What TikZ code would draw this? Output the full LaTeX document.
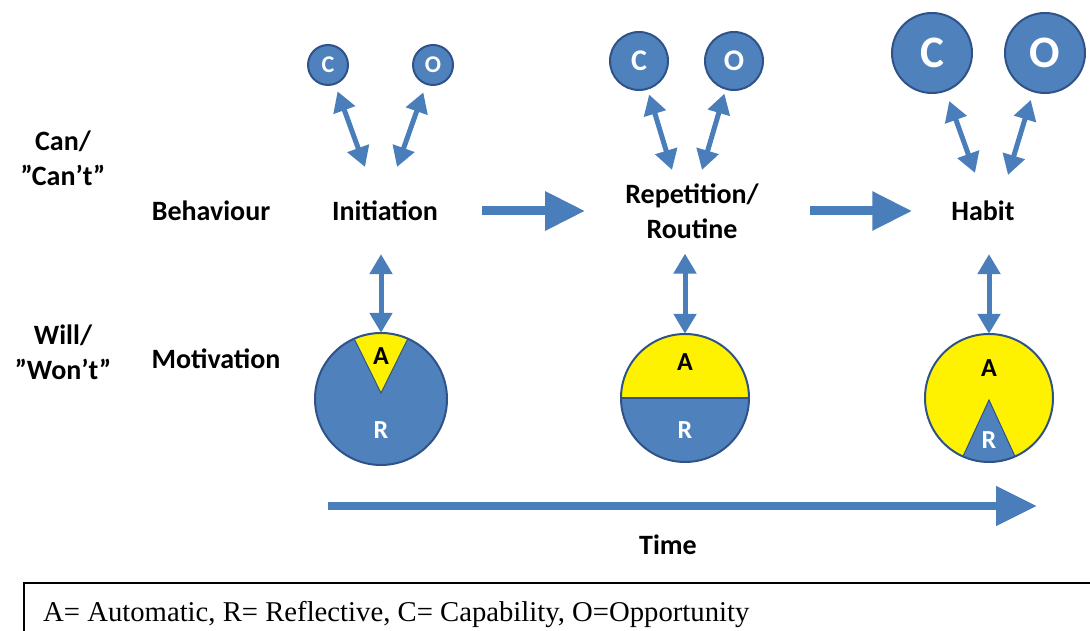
\documentclass[tikz,border=0pt]{standalone}
\usepackage{fontspec}
\setmainfont{Liberation Serif}
\setsansfont{Carlito}
\usetikzlibrary{arrows.meta,positioning,calc}
\definecolor{blu}{HTML}{4F81BD}
\definecolor{bluline}{HTML}{2F5389}
\definecolor{arrblu}{HTML}{4A7EBB}

\tikzset{
  lbl/.style={font=\sffamily\bfseries\fontsize{28}{35}\selectfont, align=center, inner sep=0pt},
  co/.style={circle, draw=bluline, line width=2pt, fill=blu, text=white, inner sep=0pt},
  dbl/.style={arrblu, line width=5pt, {Triangle[width=22pt,length=20pt]}-{Triangle[width=22pt,length=20pt]}},
  fat/.style={arrblu, line width=9pt, -{Triangle[width=37pt,length=40pt]}},
  pie/.style={circle, minimum size=#1, inner sep=0pt},
  letter/.style={font=\sffamily\bfseries\fontsize{26}{30}\selectfont, inner sep=0pt},
}

\begin{document}
\begin{tikzpicture}[x=1pt, y=1pt]
    \useasboundingbox (0,0) rectangle (1090,631);
    \clip (0,0) rectangle (1090,631);

    % row labels
    \node (can) [lbl] at (63,473) {Can/\\”Can’t”};
    \node (will) [lbl] at (63,279) {Will/\\”Won’t”};
    \node (beh) [lbl] at (211,420) {Behaviour};
    \node (mot) [lbl] at (216,272) {Motivation};

    % behaviour stages
    \node (ini) [lbl] at (385,420) {Initiation};
    \node (rep) [lbl] at (692,420) {Repetition/\\Routine};
    \node (hab) [lbl] at (983,420) {Habit};

    % capability / opportunity circles
    \node (c1) [co, minimum size=40, font=\sffamily\bfseries\fontsize{24}{28}\selectfont] at (328,566) {C};
    \node (o1) [co, minimum size=40, font=\sffamily\bfseries\fontsize{24}{28}\selectfont] at (433,566) {O};
    \node (c2) [co, minimum size=58, font=\sffamily\bfseries\fontsize{30}{34}\selectfont] at (639,570) {C};
    \node (o2) [co, minimum size=58, font=\sffamily\bfseries\fontsize{30}{34}\selectfont] at (734,570) {O};
    \node (c3) [co, minimum size=80, font=\sffamily\bfseries\fontsize{45}{50}\selectfont] at (932,578) {C};
    \node (o3) [co, minimum size=80, font=\sffamily\bfseries\fontsize{45}{50}\selectfont] at (1045,578) {O};

    \coordinate (ic) at (365,464);
    \coordinate (io) at (397,464);
    \coordinate (rc) at (672,461);
    \coordinate (ro) at (702,461);
    \coordinate (hc) at (975,458);
    \coordinate (ho) at (1008,456);

    \draw [dbl, shorten <=7pt] (c1) -- (ic);
    \draw [dbl, shorten <=8pt] (o1) -- (io);
    \draw [dbl, shorten <=5pt] (c2) -- (rc);
    \draw [dbl, shorten <=4pt] (o2) -- (ro);
    \draw [dbl, shorten <=10pt] (c3) -- (hc);
    \draw [dbl, shorten <=8pt] (o3) -- (ho);

    % stage arrows
    \draw [fat, shorten <=44pt, shorten >=40pt] (ini) -- (rep);
    \draw [fat, shorten <=51pt, shorten >=39pt] (rep) -- (hab);

    % motivation pies
    \node (pie1) [pie=132] at (381,232) {};
    \node (pie2) [pie=128] at (685,233) {};
    \node (pie3) [pie=128] at (989,233) {};

    \fill [blu] (pie1) circle [radius=66];
    \filldraw [fill=yellow, draw=bluline, line width=1pt] ($(pie1)+(0,6)$) -- ($(pie1)+(66:66)$) arc [start angle=66, end angle=114, radius=66] -- cycle;
    \draw [bluline, line width=2pt] (pie1) circle [radius=66];

    \fill [blu] (pie2) circle [radius=64];
    \fill [yellow] (pie2.east) arc [start angle=0, end angle=180, radius=64] -- cycle;
    \draw [bluline, line width=2pt] (pie2.west) -- (pie2.east);
    \draw [bluline, line width=2pt] (pie2) circle [radius=64];

    \fill [yellow] (pie3) circle [radius=64];
    \filldraw [fill=blu, draw=bluline, line width=1pt] ($(pie3)+(0,-2)$) -- ($(pie3)+(246:64)$) arc [start angle=246, end angle=294, radius=64] -- cycle;
    \draw [bluline, line width=2pt] (pie3) circle [radius=64];

    \node (a1) [letter] at (381,275) {A};
    \node (r1) [letter, text=white] at (381,201) {R};
    \node (a2) [letter] at (685,269) {A};
    \node (r2) [letter, text=white] at (685,201) {R};
    \node (a3) [letter] at (989,263) {A};
    \node (r3) [letter, text=white] at (989,191) {R};

    \draw [dbl, shorten <=33pt] (ini.south -| pie1.north) -- (pie1.north);
    \draw [dbl, shorten <=15pt] (rep.south -| pie2.north) -- (pie2.north);
    \draw [dbl, shorten <=33pt] (hab.south -| pie3.north) -- (pie3.north);

    % time axis
    \coordinate (t0) at (328,125);
    \coordinate (t1) at (1037,125);
    \draw [arrblu, line width=8pt, -{Triangle[width=38pt,length=41pt]}] (t0) -- (t1);
    \node (time) [lbl] at (668,86) {Time};

    % legend
    \draw [line width=1.5pt] (24,-20) rectangle (1110,48);
    \node (legend) [anchor=base west, inner sep=0pt, font=\fontsize{28.7}{34}\selectfont] at (43,9) {A= Automatic, R= Reflective, C= Capability, O=Opportunity};
\end{tikzpicture}
\end{document}
